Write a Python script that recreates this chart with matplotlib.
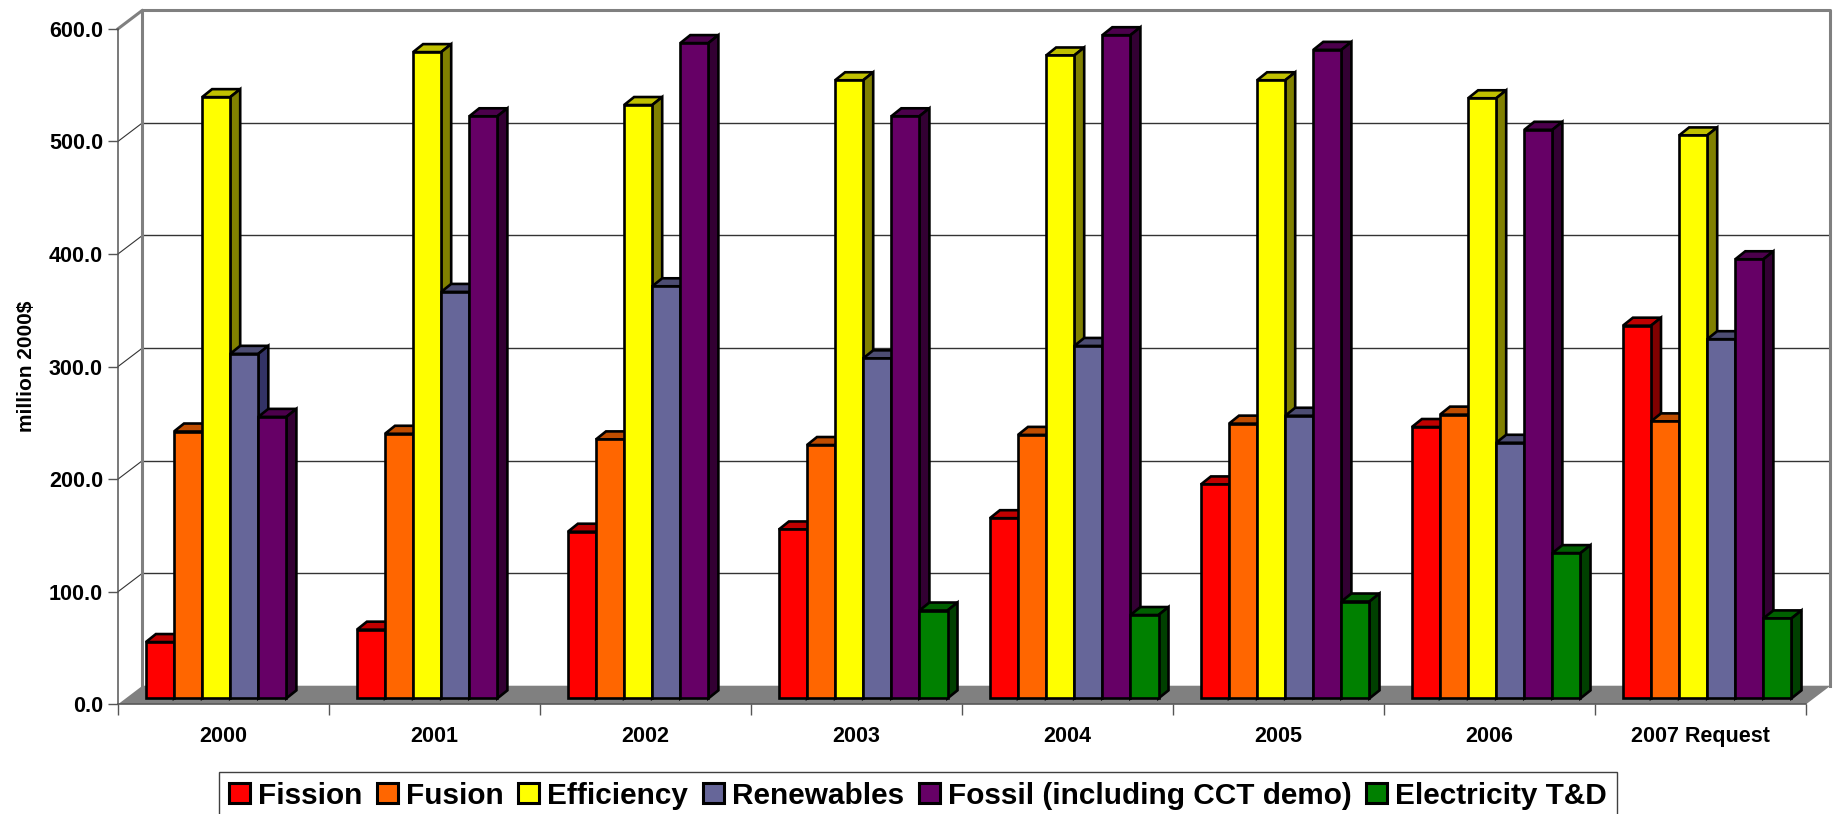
from matplotlib import pyplot as plt
import numpy as np

years = ['2000', '2001', '2002', '2003', '2004', '2005', '2006', '2007 Request']
fission = [50, 61, 148, 150, 160, 190, 241, 331]
fusion = [237, 235, 230, 225, 234, 244, 252, 246]
efficiency = [534, 574, 527, 549, 571, 549, 533, 500]
renewables = [306, 361, 366, 302, 313, 251, 227, 319]
fossil = [250, 517, 582, 517, 589, 576, 505, 390]
transmission = [np.nan, np.nan, np.nan, 78, 74, 86, 129, 71]

series = [fission, fusion, efficiency, renewables, fossil, transmission]
names = ['Fission', 'Fusion', 'Efficiency', 'Renewables', 'Fossil (including CCT demo)', 'Electricity T&D']
front = ['#FF0000', '#FF6600', '#FFFF00', '#666699', '#660066', '#008000']
side = ['#800000', '#803300', '#808000', '#333366', '#330033', '#004000']
top = ['#C00000', '#C04D00', '#C0C000', '#4D4D73', '#4C004C', '#006000']

plt.rcParams['font.family'] = ['Liberation Sans', 'DejaVu Sans']
plt.rcParams['font.weight'] = 'bold'

W, H = 1839, 814
fig = plt.figure(figsize=(W/100, H/100), dpi=100)
ax = fig.add_axes([118/W, 1 - 704.3/H, 1688/W, 675.5/H])
ax.set_xlim(0, 8)
ax.set_ylim(0, 600)

# depth of the floor and walls, in data units
wallX = 24.5/211
wallY = 16.5
# depth of a bar and where it stands on the floor
barDX = 10/211
barDY = 7.1
baseX = 27.9/211
baseY = 5.3
barW = 28.1/211

ax.fill([0, 8, 8 + wallX, wallX], [0, 0, wallY, wallY], color='#808080', lw=0, clip_on=False, zorder=1)

for v in range(100, 600, 100):
    ax.plot([wallX, 8 + wallX], [v + wallY, v + wallY], color='#333333', lw=1, clip_on=False, zorder=1)
    ax.plot([0, wallX], [v, v + wallY], color='#333333', lw=0.8, clip_on=False, zorder=1)
ax.plot([0, wallX, wallX], [600, 600 + wallY, wallY], color='#808080', lw=2.2, clip_on=False, zorder=1)
ax.plot([wallX, 8 + wallX, 8 + wallX], [600 + wallY, 600 + wallY, wallY], color='#808080', lw=2.2, clip_on=False, zorder=1)

for n, vals in enumerate(series):
    x = np.arange(8) + baseX + n*barW
    for xi, v in zip(x, vals):
        if np.isnan(v):
            continue
        t = v + baseY
        ax.fill([xi, xi + barW, xi + barW + barDX, xi + barDX], [t, t, t + barDY, t + barDY],
                fc=top[n], ec='black', lw=1.9, clip_on=False, zorder=3 + n)
        ax.fill([xi + barW, xi + barW + barDX, xi + barW + barDX, xi + barW],
                [baseY, baseY + barDY, t + barDY, t],
                fc=side[n], ec='black', lw=1.9, clip_on=False, zorder=3 + n)
    ax.bar(x, vals, barW, bottom=baseY, align='edge', color=front[n], ec='black', lw=1.9,
           label=names[n], clip_on=False, zorder=3.5 + n)

for s in ['top', 'right']:
    ax.spines[s].set_visible(False)
for s in ['left', 'bottom']:
    ax.spines[s].set_color('#555555')
    ax.spines[s].set_linewidth(1.1)
    ax.spines[s].set_zorder(2)

ax.set_yticks(np.arange(0, 700, 100))
ax.set_yticklabels(['%.1f' % v for v in np.arange(0, 700, 100)])
ax.tick_params(axis='y', length=7.2, width=1, color='#555555', pad=3.6, labelsize=15.5)
ax.set_xticks(np.arange(9))
ax.set_xticklabels([])
ax.tick_params(axis='x', length=7.6, width=1, color='#555555')
ax.set_xticks(np.arange(8) + 0.5, years, minor=True)
ax.tick_params(axis='x', which='minor', length=0, pad=15.5, labelsize=15.5)

ax.set_ylabel('million 2000$', fontsize=15, fontweight='bold')
ax.yaxis.set_label_coords(-82/1688, 0.5)

leg = ax.legend(loc='upper left', bbox_to_anchor=(219/W, 1 - 772/H), bbox_transform=fig.transFigure,
                ncol=6, fontsize=21.4, borderaxespad=0, borderpad=0.33, handlelength=0.7, handleheight=0.67,
                handletextpad=0.27, columnspacing=0.5, fancybox=False, framealpha=1, edgecolor='#404040')
leg.get_frame().set_linewidth(1)
for t in leg.get_texts():
    t.set_fontweight('bold')
for h in leg.get_patches():
    h.set_linewidth(2.2)

fig.savefig('out.png', dpi=100)
